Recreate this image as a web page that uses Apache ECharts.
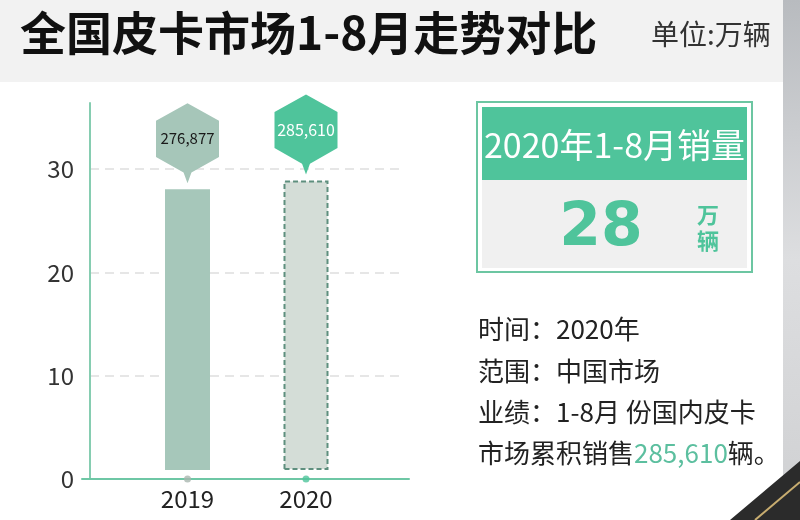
<!DOCTYPE html>
<html>
<head>
<meta charset="utf-8">
<script src="https://cdn.jsdelivr.net/npm/echarts@6/dist/echarts.min.js"></script>
<style>html,body{margin:0;padding:0;background:#fff;}#c{width:800px;height:520px;}</style>
</head>
<body>
<div id="c"></div>
<script>
// ---- data ----
var categories = ['2019', '2020'];
var salesUnits = [276877, 285610];          // 辆
var salesWan = [27.69, 28.56];              // 万辆 (bar heights)
var headlineWan = 28;                       // panel headline value (万辆)
var yTicks = [0, 10, 20, 30];
var titleText = '全国皮卡市场1-8月走势对比';
var unitText = '单位:万辆';
var panelTitle = '2020年1-8月销量';
var panelUnit = ['万', '辆'];
var infoLines = ['时间：2020年', '范围：中国市场', '业绩：1-8月 份国内皮卡'];

// ---- styles ----
var FONT = '"Noto Sans CJK SC", "Noto Sans", sans-serif';
var GREEN = '#4fc49b';
var barColors = ['#a6c7ba', '#d4ddd7'];
var hexColors = ['#a6c6b9', '#4fc49b'];
var hexText = ['#1a1a1a', '#ffffff'];
var dotColors = ['#a9b6af', '#4fc49b'];

function fmt(n) { return n.toLocaleString('en-US'); }

var chart = echarts.init(document.getElementById('c'));

var barData = salesWan.map(function (v, i) {
  var it = { value: v, itemStyle: { color: barColors[i] } };
  if (i === 1) {
    it.itemStyle.borderColor = '#5e8f7e';
    it.itemStyle.borderWidth = 2;
    it.itemStyle.borderType = [5, 3];
  }
  return it;
});

var markData = salesWan.map(function (v, i) {
  return {
    coord: [categories[i], v],
    itemStyle: { color: hexColors[i] },
    label: {
      formatter: fmt(salesUnits[i]),
      color: hexText[i],
      fontSize: i === 1 ? 16 : 15
    }
  };
});

var option = {
  animation: false,
  grid: [
    { left: 90, right: 398, top: 103, bottom: 41 },
    { left: 82, right: 391, top: 103, bottom: 41 },
    { left: 128.25, right: 434.75, top: 103, bottom: 50 },
    { left: 128.25, right: 434.75, top: 103, bottom: 41 }
  ],
  xAxis: [
    { gridIndex: 0, type: 'value', show: false, min: 0, max: 1 },
    { gridIndex: 1, type: 'value', min: 0, max: 1,
      axisLine: { show: true, lineStyle: { color: '#6ec7a5', width: 2 } },
      axisTick: { show: false }, axisLabel: { show: false }, splitLine: { show: false } },
    { gridIndex: 2, type: 'category', data: categories, show: false },
    { gridIndex: 3, type: 'category', data: categories,
      axisLine: { show: false }, axisTick: { show: false }, splitLine: { show: false },
      axisLabel: { fontSize: 24, color: '#222', fontFamily: FONT, margin: 8 } }
  ],
  yAxis: [
    { gridIndex: 0, type: 'value', min: yTicks[0], max: 36.4, interval: 10,
      axisLine: { show: true, lineStyle: { color: '#86cdb1', width: 2 } },
      axisTick: { show: false },
      axisLabel: { fontSize: 24, color: '#333', fontFamily: FONT, margin: 16, showMaxLabel: false },
      splitLine: { show: true, showMaxLine: false, showMinLine: false,
        lineStyle: { color: '#dedede', width: 1.5, type: [9, 6] } } },
    { gridIndex: 1, type: 'value', show: false, min: 0, max: 1 },
    { gridIndex: 2, type: 'value', show: false, min: 0, max: 36.2 },
    { gridIndex: 3, type: 'value', show: false, min: 0, max: 36.4 }
  ],
  series: [
    {
      type: 'bar', xAxisIndex: 2, yAxisIndex: 2, barWidth: 45,
      data: barData,
      markPoint: {
        symbol: 'path://M32,0 L64,18 L64,55 L36,71 L32,82 L28,71 L0,55 L0,18 Z',
        symbolSize: [63, 80],
        symbolOffset: [0, -46],
        label: { show: true, position: 'inside', offset: [0, -5], fontFamily: FONT },
        data: markData
      }
    },
    {
      type: 'scatter', xAxisIndex: 3, yAxisIndex: 3, symbolSize: 7, clip: false, z: 5,
      data: categories.map(function (c, i) {
        return { value: [c, 0], itemStyle: { color: dotColors[i] } };
      })
    }
  ],
  graphic: [
    { type: 'rect', z: -10, shape: { x: 0, y: 0, width: 783, height: 82 }, style: { fill: '#f2f2f2' } },
    { type: 'text', left: 20, top: 10, style: { text: titleText, fontSize: 46, fontWeight: 'bold', fontFamily: FONT, fill: '#111' } },
    { type: 'text', left: 651, top: 20, style: { text: unitText, fontSize: 28, fontFamily: FONT, fill: '#333' } },
    // right strip
    { type: 'rect', z: -10, shape: { x: 783, y: 0, width: 17, height: 520 },
      style: { fill: new echarts.graphic.LinearGradient(0, 0, 0, 1, [
        { offset: 0, color: '#b8bbbf' }, { offset: 0.5, color: '#dddee0' }, { offset: 1, color: '#cfd0d2' }]) } },
    { type: 'polygon', z: -5, shape: { points: [[730, 520], [800, 461], [800, 520]] }, style: { fill: '#2b2b2b' } },
    { type: 'line', z: -4, shape: { x1: 755, y1: 520, x2: 800, y2: 482 }, style: { stroke: '#c8ad70', lineWidth: 2 } },
    // panel
    { type: 'rect', shape: { x: 477, y: 102, width: 275, height: 170 }, style: { fill: '#fff', stroke: '#6cc6a2', lineWidth: 2 } },
    { type: 'rect', shape: { x: 482, y: 107, width: 265, height: 73 }, style: { fill: GREEN } },
    { type: 'rect', shape: { x: 482, y: 180, width: 265, height: 88 }, style: { fill: '#f0f0f0' } },
    { type: 'text', x: 614.5, y: 145, style: { text: panelTitle, fontSize: 34, fontFamily: FONT, fill: '#fff', align: 'center', verticalAlign: 'middle' } },
    { type: 'text', x: 601, y: 229, style: { text: String(headlineWan), fontSize: 60, fontWeight: 'bold', fontFamily: '"DejaVu Sans", sans-serif', fill: GREEN, align: 'center', verticalAlign: 'middle' } },
    { type: 'text', x: 708, y: 215, style: { text: panelUnit[0], fontSize: 22, fontWeight: 'bold', fontFamily: FONT, fill: GREEN, align: 'center', verticalAlign: 'middle' } },
    { type: 'text', x: 708, y: 241, style: { text: panelUnit[1], fontSize: 22, fontWeight: 'bold', fontFamily: FONT, fill: GREEN, align: 'center', verticalAlign: 'middle' } },
    { type: 'text', x: 478, y: 329, style: { text: infoLines[0], fontSize: 26, fontFamily: FONT, fill: '#222', verticalAlign: 'middle' } },
    { type: 'text', x: 478, y: 371, style: { text: infoLines[1], fontSize: 26, fontFamily: FONT, fill: '#222', verticalAlign: 'middle' } },
    { type: 'text', x: 478, y: 412, style: { text: infoLines[2], fontSize: 26, fontFamily: FONT, fill: '#222', verticalAlign: 'middle' } },
    { type: 'text', x: 478, y: 453, style: {
      text: '市场累积销售{g|' + fmt(salesUnits[1]) + '}辆。', fontSize: 26, fontFamily: FONT, fill: '#222', verticalAlign: 'middle',
      rich: { g: { fill: '#5cbf9f', fontSize: 26, fontFamily: FONT } } } }
  ]
};
chart.setOption(option);
</script>
</body>
</html>
